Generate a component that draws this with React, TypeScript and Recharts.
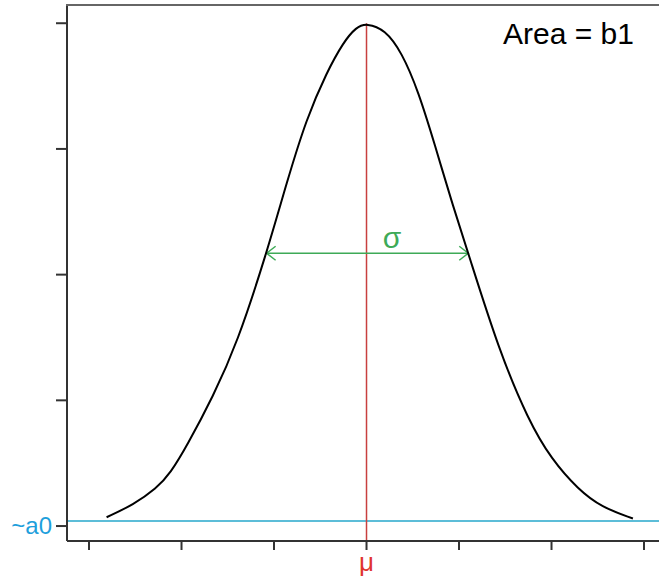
import { Line, LineChart, ReferenceDot, ReferenceLine, XAxis, YAxis } from 'recharts'

// Gaussian profile (x in units of tick spacing, y in units of y ticks)
const curveX = [-2.81, -2.52, -2.27, -2.12, -1.94, -1.66, -1.40, -1.08, -0.86, -0.65, -0.43, -0.25, -0.11, 0, 0.2, 0.38, 0.56, 0.74, 0.92, 1.1, 1.43, 1.75, 2.0, 2.29, 2.54, 2.88]
const curveY = [0.07, 0.17, 0.3, 0.42, 0.64, 1.03, 1.45, 2.17, 2.74, 3.24, 3.61, 3.85, 3.97, 4.0, 3.95, 3.77, 3.46, 3.03, 2.58, 2.17, 1.4, 0.84, 0.53, 0.29, 0.15, 0.06]

const xTicks = [-3, -2, -1, 0, 1, 2, 3]
const yTicks = [0, 1, 2, 3, 4]
const xTickLabels: Record<number, string> = { 0: 'μ' }
const yTickLabels: Record<number, string> = { 0: '~a0' }

const mu = 0
const peak = 4.0
const baselineA0 = 0.04
// sigma arrow runs between the two curve points at the same height
const sigmaLeft = 7
const sigmaRight = 19

const X_DOMAIN: [number, number] = [-3.238, 3.162]
const Y_DOMAIN: [number, number] = [-0.119, 4.145]

const data = curveX.map((x, i) => ({ x, y: curveY[i] }))

const FONT = '"Liberation Sans", Arial, sans-serif'

const XTick = (props: any) => {
    const label = xTickLabels[props.payload.value]
    if (!label) return <g />
    return (
        <text x={props.x} y={props.y} dy={19} textAnchor="middle" fill="#e0342f" fontSize={26} fontFamily={FONT}>
            {label}
        </text>
    )
}

const YTick = (props: any) => {
    const label = yTickLabels[props.payload.value]
    if (!label) return <g />
    return (
        <text x={props.x} y={props.y} dx={-2} dy={8} textAnchor="end" fill="#1f9fdc" fontSize={24} fontFamily={FONT}>
            {label}
        </text>
    )
}

const DoubleArrow = (props: any) => {
    const { x1, y1, x2, y2 } = props
    const c = '#3eaa57'
    return (
        <g stroke={c} strokeWidth={1.5} fill="none">
            <line x1={x1} y1={y1} x2={x2} y2={y2} />
            <polyline points={`${x1 + 9},${y1 - 7} ${x1},${y1} ${x1 + 9},${y1 + 7}`} />
            <polyline points={`${x2 - 9},${y2 - 7} ${x2},${y2} ${x2 - 9},${y2 + 7}`} />
        </g>
    )
}

const textShape = (label: string, color: string, size: number, anchor: 'start' | 'middle') => (props: any) => (
    <text x={props.cx} y={props.cy} textAnchor={anchor} fill={color} fontSize={size} fontFamily={FONT}>
        {label}
    </text>
)

export default function App() {
    return (
        <div style={{ position: 'absolute', left: 0, top: 0, width: 659, height: 579, background: '#fff' }}>
            <LineChart width={659} height={579} data={data} margin={{ top: 5, right: 0, bottom: 0, left: 0 }}>
                <XAxis
                    dataKey="x"
                    type="number"
                    domain={X_DOMAIN}
                    allowDataOverflow
                    ticks={xTicks}
                    tick={<XTick />}
                    tickSize={9}
                    height={38}
                    axisLine={{ stroke: '#333', strokeWidth: 2 }}
                    tickLine={{ stroke: '#333', strokeWidth: 2 }}
                    interval={0}
                />
                <YAxis
                    type="number"
                    domain={Y_DOMAIN}
                    allowDataOverflow
                    ticks={yTicks}
                    tick={<YTick />}
                    tickSize={11}
                    width={67}
                    axisLine={{ stroke: '#333', strokeWidth: 2 }}
                    tickLine={{ stroke: '#333', strokeWidth: 2 }}
                    interval={0}
                />
                <ReferenceLine y={baselineA0} stroke="#5cbdd8" strokeWidth={2} />
                <ReferenceLine
                    segment={[{ x: mu, y: Y_DOMAIN[0] }, { x: mu, y: peak }]}
                    stroke="#c8403f"
                    strokeWidth={1.5}
                />
                <ReferenceLine
                    segment={[
                        { x: curveX[sigmaLeft], y: curveY[sigmaLeft] },
                        { x: curveX[sigmaRight], y: curveY[sigmaRight] },
                    ]}
                    shape={<DoubleArrow />}
                />
                <Line
                    dataKey="y"
                    type="basis"
                    stroke="#000"
                    strokeWidth={2}
                    dot={false}
                    isAnimationActive={false}
                />
                <ReferenceDot x={0.276} y={2.212} r={0} shape={textShape('σ', '#3eaa57', 30, 'middle')} />
                <ReferenceDot x={1.476} y={3.834} r={0} shape={textShape('Area = b1', '#000', 30, 'start')} />
            </LineChart>
            {/* frame line along the top of the plot area */}
            <div style={{ position: 'absolute', left: 66, top: 4, width: 593, height: 2, background: '#666' }} />
        </div>
    )
}
